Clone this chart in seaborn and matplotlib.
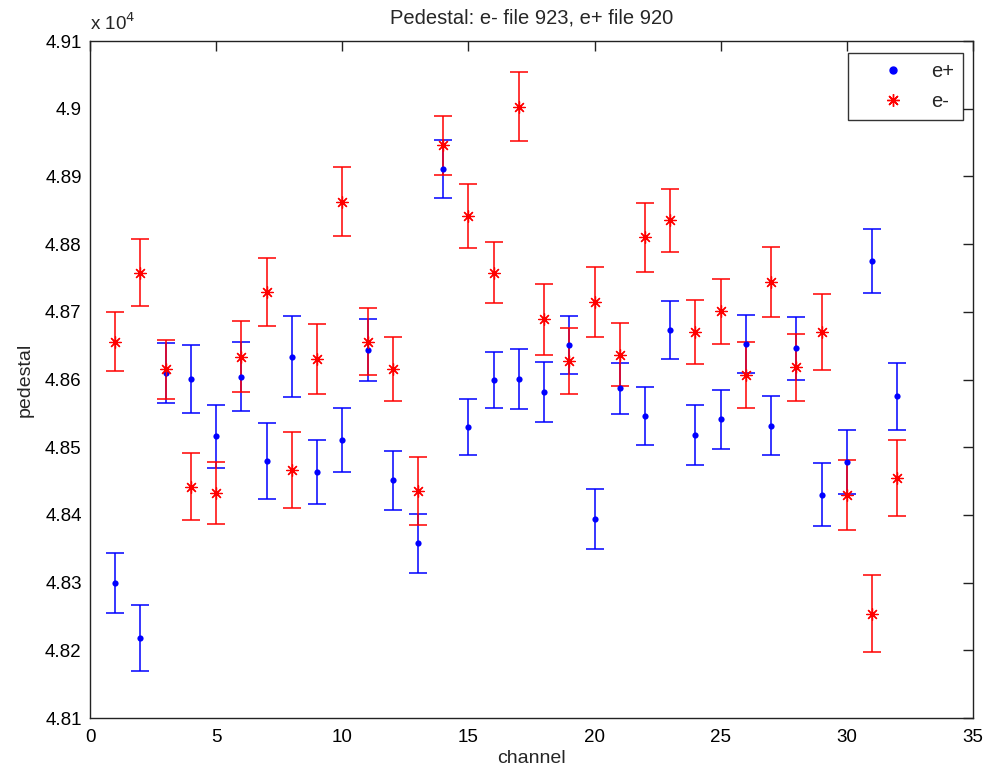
import matplotlib
matplotlib.use("Agg")
import matplotlib.pyplot as plt
from matplotlib.ticker import FuncFormatter, MultipleLocator
from matplotlib.lines import Line2D
import seaborn as sns
import pandas as pd
import numpy as np

channels = list(range(1, 33))

# e+ (file 920) pedestal values and errors
eplus_vals = [48299, 48218, 48610, 48601, 48516, 48604, 48480, 48634, 48463, 48511,
              48644, 48451, 48358, 48911, 48530, 48599, 48601, 48582, 48651, 48394,
              48587, 48546, 48673, 48518, 48541, 48652, 48532, 48646, 48430, 48478,
              48775, 48575]
eplus_err = [44.5, 49, 44, 50, 47, 51, 56, 60, 47.5, 47, 45.5, 43, 44, 43, 41.5, 41.5,
             44, 44, 43, 45, 38, 43, 43, 44, 44, 43, 44, 47, 46, 47, 47.5, 50]

# e- (file 923) pedestal values and errors
eminus_vals = [48656, 48758, 48615, 48442, 48432, 48634, 48729, 48466, 48630, 48863,
               48656, 48616, 48435, 48946, 48842, 48758, 49003, 48689, 48627, 48715,
               48637, 48810, 48835, 48670, 48701, 48607, 48744, 48618, 48670, 48430,
               48254, 48454]
eminus_err = [44, 50, 44, 50, 45.5, 53, 50, 56, 52, 51, 50, 47, 50, 44, 47.5, 45, 51,
              52, 48.5, 52, 46, 51, 46, 47.5, 48, 49, 52, 50, 56, 51.5, 57, 56]

df = pd.DataFrame({
    "channel": channels * 2,
    "pedestal": eplus_vals + eminus_vals,
    "err": eplus_err + eminus_err,
    "beam": ["e+"] * 32 + ["e-"] * 32,
})

sns.set_theme(style="white")
plt.rcParams["font.family"] = ["Liberation Sans", "DejaVu Sans"]

fig = plt.figure(figsize=(9.83, 7.75), dpi=100)
ax = fig.add_axes([0.0916, 0.0735, 0.8982, 0.8735])

colors = {"e+": "#0000ff", "e-": "#ff0000"}
for beam in ["e+", "e-"]:
    sub = df[df["beam"] == beam]
    ax.errorbar(sub["channel"], sub["pedestal"], yerr=sub["err"], fmt="none",
                ecolor=colors[beam], elinewidth=1.1, capsize=6.2, capthick=1.1, zorder=2)

sub = df[df["beam"] == "e+"]
sns.scatterplot(data=sub, x="channel", y="pedestal", color="#0000ff", marker="o",
                s=20, edgecolor="#0000ff", linewidth=0, ax=ax, zorder=3, legend=False)
sub = df[df["beam"] == "e-"]
sns.scatterplot(data=sub, x="channel", y="pedestal", color="#ff0000", marker=(8, 2, 0),
                s=70, linewidth=0.9, ax=ax, zorder=3, legend=False)
sns.scatterplot(data=sub, x="channel", y="pedestal", color="#ff0000", marker="o",
                s=12, linewidth=0, ax=ax, zorder=3, legend=False)

ax.set_xlim(0, 35)
ax.set_ylim(48100, 49100)
ax.xaxis.set_major_locator(MultipleLocator(5))
ax.yaxis.set_major_locator(MultipleLocator(100))
ax.yaxis.set_major_formatter(FuncFormatter(lambda v, p: "%g" % round(v / 1e4, 4)))

ax.tick_params(direction="in", length=7, width=1, top=True, right=True,
               labelsize=13.5, colors="#222222", labelcolor="black")
ax.tick_params(axis="x", pad=8)
ax.tick_params(axis="y", pad=6)
for s in ax.spines.values():
    s.set_color("#222222")
    s.set_linewidth(1.0)
    s.set_visible(True)

ax.set_xlabel("channel", fontsize=14, labelpad=3)
ax.set_ylabel("pedestal", fontsize=14, labelpad=8)
ax.set_title("Pedestal: e- file 923, e+ file 920", fontsize=14.5, pad=13)
ax.text(0.0, 1.011, r"x 10$^{4}$", transform=ax.transAxes, fontsize=13.5,
        ha="left", va="bottom")

handles = [
    Line2D([], [], linestyle="none", marker="o", markersize=5, color="#0000ff"),
    Line2D([], [], linestyle="none", marker=(8, 2, 0), markersize=9, color="#ff0000",
           markeredgewidth=1.0),
]
leg = ax.legend(handles, ["e+", "e-"], loc="upper right", bbox_to_anchor=(0.989, 0.983),
                fontsize=14.5, frameon=True, fancybox=False, edgecolor="black",
                borderpad=0.45, handletextpad=0.1, borderaxespad=0, labelspacing=0.55,
                handlelength=3.6)
leg.get_frame().set_linewidth(1.0)

fig.savefig("out.png", dpi=100, facecolor="white")
